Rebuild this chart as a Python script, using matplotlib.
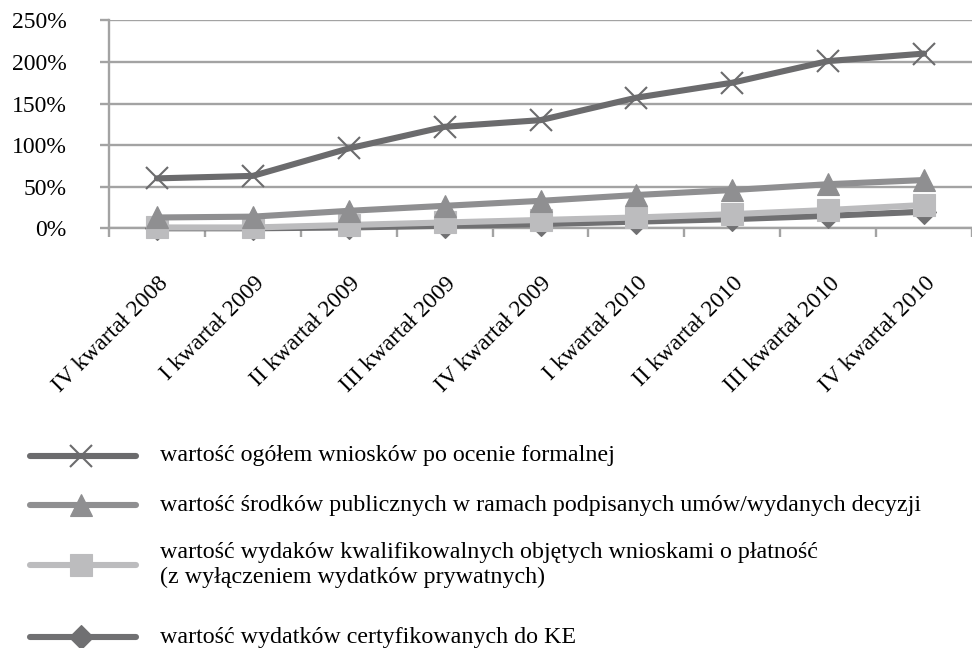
import matplotlib
matplotlib.use("Agg")
import matplotlib.pyplot as plt
from matplotlib.lines import Line2D
from matplotlib.transforms import ScaledTranslation

plt.rcParams['font.family'] = ['Liberation Serif', 'DejaVu Serif']

categories = ["IV kwartał 2008", "I kwartał 2009", "II kwartał 2009", "III kwartał 2009",
              "IV kwartał 2009", "I kwartał 2010", "II kwartał 2010", "III kwartał 2010",
              "IV kwartał 2010"]
s_total = [60, 63, 96, 122, 130, 157, 175, 201, 210]
s_public = [13, 14, 21, 27, 33, 40, 46, 53, 58]
s_eligible = [1, 1, 4, 7, 10, 13, 17, 22, 28]
s_certified = [0, 0, 1, 3, 5, 8, 11, 15, 20]
labels = ["wartość ogółem wniosków po ocenie formalnej",
          "wartość środków publicznych w ramach podpisanych umów/wydanych decyzji",
          "wartość wydaków kwalifikowalnych objętych wnioskami o płatność\n(z wyłączeniem wydatków prywatnych)",
          "wartość wydatków certyfikowanych do KE"]
yticks = [0, 50, 100, 150, 200, 250]

W, H = 972, 648
fig = plt.figure(figsize=(W / 100, H / 100), dpi=100)
ax = fig.add_axes([109 / W, 1 - 228.3 / H, (972 - 109) / W, (228.3 - 20.3) / H])

c_total = '#6b6b6d'
c_public = '#8f8f91'
c_elig = '#bcbcbe'
c_cert = '#707072'
lw = 4.4
x = list(range(len(categories)))

styles = [
    dict(color=c_cert, marker='D', ms=12.5, mec=c_cert, mfc=c_cert, mew=0.8),
    dict(color=c_elig, marker='s', ms=16.5, mec=c_elig, mfc=c_elig, mew=0.8),
    dict(color=c_public, marker='^', ms=16.5, mec=c_public, mfc=c_public, mew=0.8),
    dict(color=c_total, marker='x', ms=16.5, mec=c_total, mew=1.5),
]
series = [s_certified, s_eligible, s_public, s_total]
for s, st in zip(series, styles):
    ax.plot(x, s, lw=lw, solid_capstyle='round', clip_on=False, zorder=3, **st)

gc = '#a3a3a3'
fs = 17
ax.set_xlim(-0.5, len(categories) - 0.5)
ax.set_ylim(0, 250)
ax.set_yticks(yticks)
ax.set_yticklabels([f"{v}%" for v in yticks], fontsize=fs)
ax.yaxis.grid(True, color=gc, lw=1.7)
ax.set_axisbelow(True)
for sp in ['top', 'right']:
    ax.spines[sp].set_visible(False)
for sp in ['left', 'bottom']:
    ax.spines[sp].set_color(gc)
    ax.spines[sp].set_linewidth(1.7)
ax.tick_params(axis='y', length=6.5, width=1.7, color=gc, pad=24)

ax.set_xticks([i - 0.5 for i in range(len(categories) + 1)])
ax.set_xticklabels([])
ax.set_xticks(x, minor=True)
ax.set_xticklabels(categories, minor=True, rotation=45, ha='right', va='center',
                   rotation_mode='anchor', fontsize=fs)
ax.tick_params(axis='x', which='major', length=6.5, width=1.7, color=gc)
ax.tick_params(axis='x', which='minor', length=0, pad=0)
off = ScaledTranslation(0.08, -0.52, fig.dpi_scale_trans)
for lab in ax.get_xticklabels(minor=True):
    lab.set_transform(lab.get_transform() + off)

# legend (drawn manually)
rows = [456, 505, 565, 637]
leg_styles = styles[::-1]
for ry, st, lab in zip(rows, leg_styles, labels):
    yf = 1 - ry / H
    xs = [30 / W, 81 / W, 136 / W]
    ln = Line2D(xs, [yf] * 3, transform=fig.transFigure, lw=lw, solid_capstyle='round',
                markevery=[1], **st)
    fig.add_artist(ln)
    fig.text(160 / W, yf, lab, fontsize=17.3, va='center', ha='left', linespacing=1.2)

fig.savefig("out.png", dpi=100)
